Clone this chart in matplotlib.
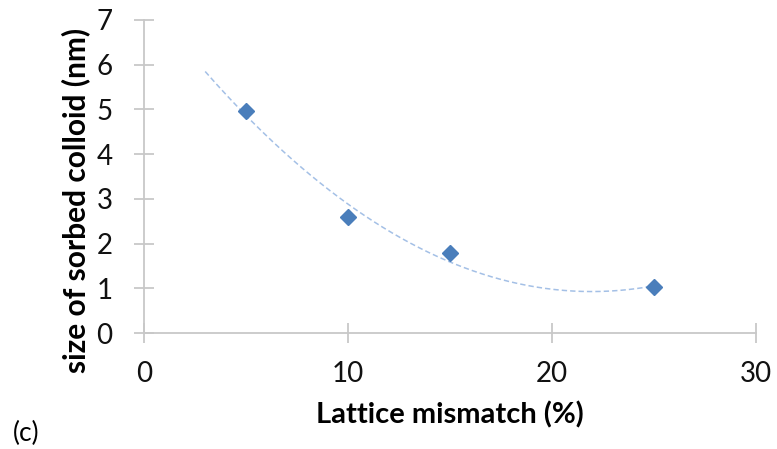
import numpy as np
import matplotlib.pyplot as plt

plt.rcParams['font.family'] = ['Lato', 'DejaVu Sans']

# Measured colloid sizes against lattice mismatch
mismatch = np.array([5, 10, 15, 25])
colloid_size = np.array([4.97, 2.6, 1.8, 1.02])

# second-order polynomial trendline, forecast back to 3 %
trend_start, trend_end = 3, 25

fig = plt.figure(figsize=(7.77, 4.49), dpi=100)
ax = fig.add_axes([144 / 777, 1 - 333 / 449, 612 / 777, 313 / 449])

coef = np.polyfit(mismatch, colloid_size, 2)
xs = np.linspace(trend_start, trend_end, 200)
ax.plot(xs, np.polyval(coef, xs), color='#a4c0e6', lw=1.1, ls=(0, (3.5, 2)), zorder=2)
ax.plot(mismatch, colloid_size, ls='none', marker='D', ms=8.5, color='#4a7ebb',
        markeredgecolor='#4a7ebb', zorder=3, clip_on=False)

ax.set_xlim(0, 30)
ax.set_ylim(0, 7)
ax.set_xticks([0, 10, 20, 30])
ax.set_yticks(range(8))

for side in ['top', 'right']:
    ax.spines[side].set_visible(False)
for side in ['left', 'bottom']:
    ax.spines[side].set_color('#c8c8c8')
    ax.spines[side].set_linewidth(1.3)

ax.tick_params(direction='inout', length=14.4, width=1.3, color='#c8c8c8',
               labelsize=20, labelcolor='#111111')
ax.tick_params(axis='x', pad=13)
ax.tick_params(axis='y', pad=15.5)

ax.set_xlabel('Lattice mismatch (%)', fontsize=21, fontweight='bold', va='center')
ax.set_ylabel('size of sorbed colloid (nm)', fontsize=21.5, fontweight='bold', va='center')
ax.xaxis.set_label_coords(0.5, -0.262)
ax.yaxis.set_label_coords(-0.111, 0.425)

fig.text(26 / 777, 1 - 433 / 449, '(c)', fontsize=19, ha='center', va='center')

fig.savefig('out.png', dpi=100)
